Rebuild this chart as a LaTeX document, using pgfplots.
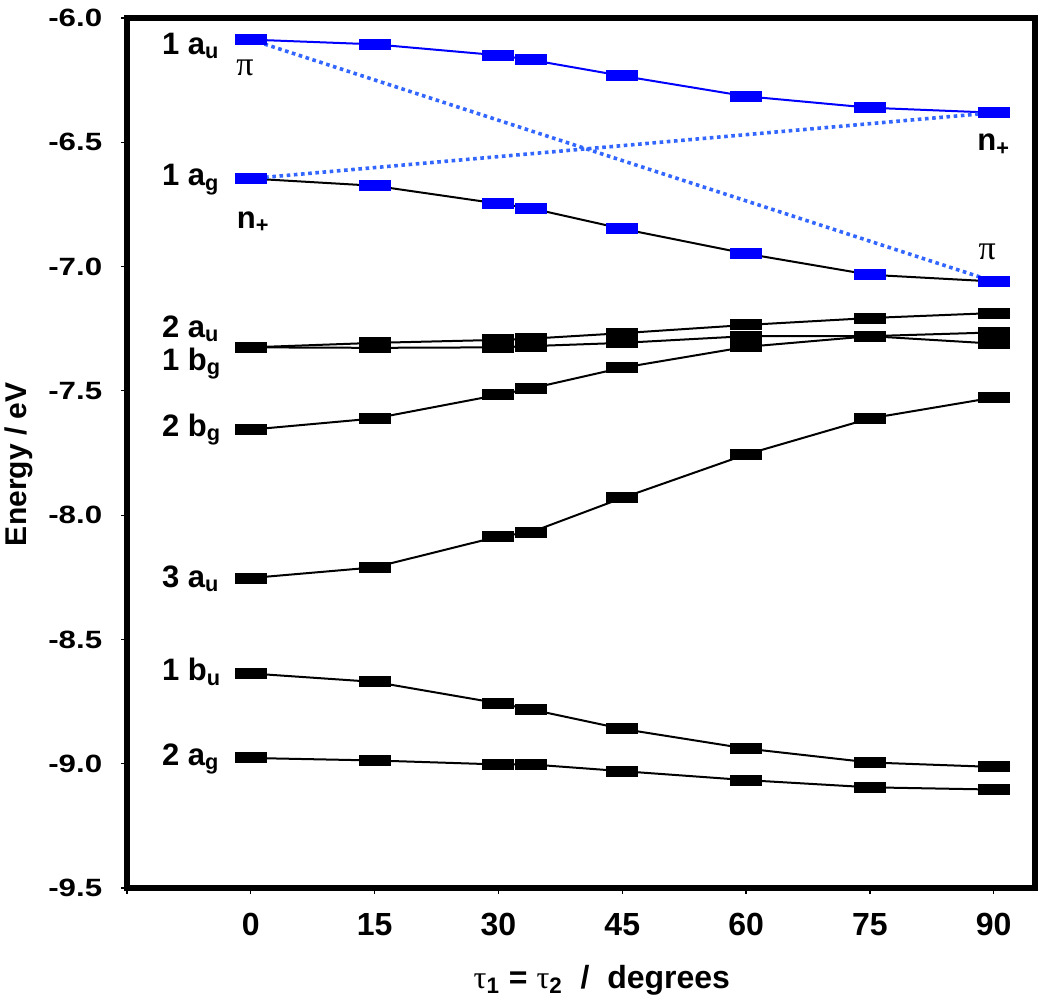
\documentclass[border=0pt]{standalone}
\usepackage{fontspec}
\setmainfont{Liberation Sans}
\newfontfamily\symf{Liberation Serif}
\usepackage{pgfplots}
\pgfplotsset{compat=1.18}

% flat rectangular marks, as in the level diagram
\pgfdeclareplotmark{bar}{%
  \pgfpathrectangle{\pgfpoint{-8pt}{-2.75pt}}{\pgfpoint{16pt}{5.5pt}}%
  \pgfusepathqfill}

\definecolor{mblue}{RGB}{0,0,255}
\definecolor{dblue}{RGB}{51,102,255}

\tikzset{
  lab/.style={font=\bfseries\fontsize{15.5}{18}\selectfont, anchor=west, inner sep=0pt},
  lvl/.style={black, line width=1pt, mark=bar, mark options={solid}},
}

\begin{document}
\begin{tikzpicture}
\path[use as bounding box] (-63.5pt,-58pt) rectangle (461.5pt,444pt);
\begin{axis}[
    at={(0,0)}, anchor=south west,
    scale only axis, width=454pt, height=435pt,
    xmin=-15, xmax=95, ymin=-9.5, ymax=-6,
    clip=false,
    axis line style={line width=2.8pt},
    tick align=outside, major tick length=3pt,
    tick style={black, line width=0.6pt},
    xtick pos=bottom, ytick pos=left,
    xtick={-15,0,15,30,45,60,75,90},
    xticklabels={,0,15,30,45,60,75,90},
    ytick={-9.5,-9,-8.5,-8,-7.5,-7,-6.5,-6},
    yticklabels={-9.5,-9.0,-8.5,-8.0,-7.5,-7.0,-6.5,-6.0},
    xticklabel style={font=\bfseries\fontsize{16}{18}\selectfont, yshift=-6pt},
    yticklabel style={font=\bfseries\fontsize{12.5}{15}\selectfont, xscale=1.25, xshift=-4pt},
]

% 2 a_g
\addplot[lvl] coordinates {(0,-8.977) (15,-8.987) (30,-9.003) (34,-9.003) (45,-9.030) (60,-9.066) (75,-9.095) (90,-9.104)};
% 1 b_u
\addplot[lvl] coordinates {(0,-8.637) (15,-8.671) (30,-8.757) (34,-8.782) (45,-8.860) (60,-8.939) (75,-8.995) (90,-9.013)};
% 3 a_u
\addplot[lvl] coordinates {(0,-8.253) (15,-8.210) (30,-8.086) (34,-8.068) (45,-7.931) (60,-7.756) (75,-7.611) (90,-7.527)};
% 2 b_g
\addplot[lvl] coordinates {(0,-7.656) (15,-7.611) (30,-7.516) (34,-7.490) (45,-7.407) (60,-7.323) (75,-7.280) (90,-7.265)};
% 1 b_g
\addplot[lvl] coordinates {(0,-7.325) (15,-7.327) (30,-7.325) (34,-7.320) (45,-7.307) (60,-7.280) (75,-7.280) (90,-7.310)};
% 2 a_u
\addplot[lvl] coordinates {(0,-7.325) (15,-7.307) (30,-7.295) (34,-7.290) (45,-7.268) (60,-7.235) (75,-7.207) (90,-7.187)};
% 1 a_g (black line, blue marks)
\addplot[black, line width=1pt, mark=bar, mark options={mblue}] coordinates {(0,-6.646) (15,-6.675) (30,-6.747) (34,-6.766) (45,-6.848) (60,-6.948) (75,-7.033) (90,-7.060)};
% 1 a_u
\addplot[mblue, line width=1pt, mark=bar] coordinates {(0,-6.087) (15,-6.106) (30,-6.150) (34,-6.169) (45,-6.233) (60,-6.315) (75,-6.361) (90,-6.381)};

% correlation lines pi / n+
\addplot[dblue, line width=1.8pt, dash pattern=on 1.8pt off 1.8pt] coordinates {(0,-6.087) (90,-7.060)};
\addplot[dblue, line width=1.8pt, dash pattern=on 1.8pt off 1.8pt] coordinates {(0,-6.646) (90,-6.381)};

% level labels
\node[lab] at (axis cs:-10.8,-6.113) {1 a\textsubscript{u}};
\node[lab] at (axis cs:-10.8,-6.650) {1 a\textsubscript{g}};
\node[lab] at (axis cs:-10.8,-7.250) {2 a\textsubscript{u}};
\node[lab] at (axis cs:-10.8,-7.390) {1 b\textsubscript{g}};
\node[lab] at (axis cs:-10.8,-7.657) {2 b\textsubscript{g}};
\node[lab] at (axis cs:-10.8,-8.255) {3 a\textsubscript{u}};
\node[lab] at (axis cs:-10.8,-8.630) {1 b\textsubscript{u}};
\node[lab] at (axis cs:-10.8,-8.980) {2 a\textsubscript{g}};
\node[font=\symf\fontsize{17}{18}\selectfont, inner sep=0pt] at (axis cs:-0.7,-6.20) {π};
\node[lab, anchor=center] at (axis cs:0.3,-6.82) {n\textsubscript{+}};
\node[lab, anchor=center] at (axis cs:90,-6.51) {n\textsubscript{+}};
\node[font=\symf\fontsize{17}{18}\selectfont, inner sep=0pt] at (axis cs:89.2,-6.94) {π};

% axis titles
\node[font=\bfseries\fontsize{16}{18}\selectfont, anchor=center] at ([yshift=-46pt]axis description cs:0.523,0)
  {{\symf\mdseries τ}\textsubscript{1} = {\symf\mdseries τ}\textsubscript{2}\ \ /\ \ degrees};
\node[font=\bfseries\fontsize{15}{17}\selectfont, rotate=90, anchor=center] at ([xshift=-54pt]axis description cs:0,0.487)
  {Energy / eV};
\end{axis}
\end{tikzpicture}
\end{document}
